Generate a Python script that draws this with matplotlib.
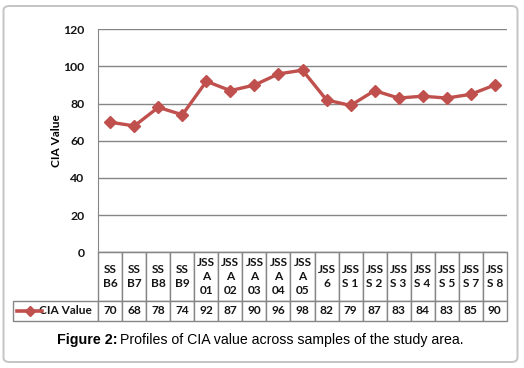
import matplotlib
matplotlib.use("Agg")
import matplotlib.pyplot as plt
from matplotlib.patches import FancyBboxPatch
from matplotlib.lines import Line2D

categories = ["SS\nB6", "SS\nB7", "SS\nB8", "SS\nB9",
              "JSS\nA\n01", "JSS\nA\n02", "JSS\nA\n03", "JSS\nA\n04", "JSS\nA\n05",
              "JSS\n6", "JSS\nS 1", "JSS\nS 2", "JSS\nS 3", "JSS\nS 4", "JSS\nS 5",
              "JSS\nS 7", "JSS\nS 8"]
cia_values = [70, 68, 78, 74, 92, 87, 90, 96, 98, 82, 79, 87, 83, 84, 83, 85, 90]
series_name = "CIA Value"
y_ticks = [0, 20, 40, 60, 80, 100, 120]

W, H = 524, 368
fig = plt.figure(figsize=(W / 100, H / 100), dpi=100)
FONT = "Lato"
RED = "#C0504D"
GRID = "#868686"

# outer rounded frame
frame = FancyBboxPatch((3.5 / W, 6 / H), 514 / W, 356 / H,
                       boxstyle="round,pad=0,rounding_size=0.012",
                       transform=fig.transFigure, fill=False,
                       edgecolor="#c4c4c4", linewidth=1.4)
fig.patches.append(frame)

left, right, top, bottom = 98.3, 506.7, 29.3, 252.3
ax = fig.add_axes([left / W, 1 - bottom / H, (right - left) / W, (bottom - top) / H])

n = len(categories)
xs = list(range(n))
ax.plot(xs, cia_values, color=RED, linewidth=2.4, marker="D", markersize=6,
        markerfacecolor=RED, markeredgecolor=RED, zorder=3)
ax.set_xlim(-0.5, n - 0.5)
ax.set_ylim(0, 120)
ax.set_yticks(y_ticks)
ax.set_yticklabels([str(t) for t in y_ticks], fontfamily=FONT, fontweight="bold",
                   fontsize=8.8, color="#141414")
ax.tick_params(axis="y", length=0, pad=10)
ax.set_xticks([])
ax.grid(axis="y", color=GRID, linewidth=1.0)
ax.set_axisbelow(True)
for s in ["top", "right"]:
    ax.spines[s].set_visible(False)
ax.spines["left"].set_color(GRID)
ax.spines["bottom"].set_color(GRID)
axw, axh = right - left, bottom - top
ax.set_ylabel(series_name, fontfamily=FONT, fontweight="bold", fontsize=8.6)
ax.yaxis.set_label_coords((62.5 - left) / axw, 0.5)

# data table (sizes in axes-fraction units so the bbox fit does not rescale)
tbl_left, hdr_bottom, tbl_bottom = 13.0, 301.0, 321.0
hdr_h = (hdr_bottom - bottom) / axh
val_h = (tbl_bottom - hdr_bottom) / axh
label_w = (left - tbl_left) / axw
bbox = [0, -(hdr_h + val_h), 1, hdr_h + val_h]
tbl = ax.table(cellText=[[str(v) for v in cia_values]],
               colLabels=categories, cellLoc="center", bbox=bbox)
# row label cell with fixed width
tbl.add_cell(1, -1, width=label_w, height=val_h, text=series_name, loc="right")
tbl.auto_set_font_size(False)
for (r, c), cell in tbl.get_celld().items():
    cell.set_edgecolor(GRID)
    cell.set_linewidth(1.0)
    cell.get_text().set_fontfamily(FONT)
    cell.get_text().set_fontweight("bold")
    cell.get_text().set_fontsize(8.6)
    cell.get_text().set_color("#141414")
    cell.set_height(hdr_h if r == 0 else val_h)
    cell.set_width(1.0 / n if c >= 0 else label_w)
    if c < 0:
        cell.PAD = 0.07
    if r == 0:
        cell.get_text().set_linespacing(1.35)

# legend key in row-label cell
ly = 1 - 311.0 / H
fig.add_artist(Line2D([17 / W, 42 / W], [ly, ly], transform=fig.transFigure,
                      color=RED, linewidth=2.6))
fig.add_artist(Line2D([29.5 / W], [ly], transform=fig.transFigure, color=RED,
                      marker="D", markersize=5.5, linestyle="none"))

# caption
cy = 1 - 340.0 / H
fig.text(117.5 / W, cy, "Figure 2:", ha="right", va="center", fontweight="bold",
         fontfamily="Liberation Sans", fontsize=10.3)
fig.text(120.5 / W, cy, "Profiles of CIA value across samples of the study area.",
         ha="left", va="center", fontfamily="Liberation Sans", fontsize=10.2)

fig.savefig("out.png", dpi=100)
